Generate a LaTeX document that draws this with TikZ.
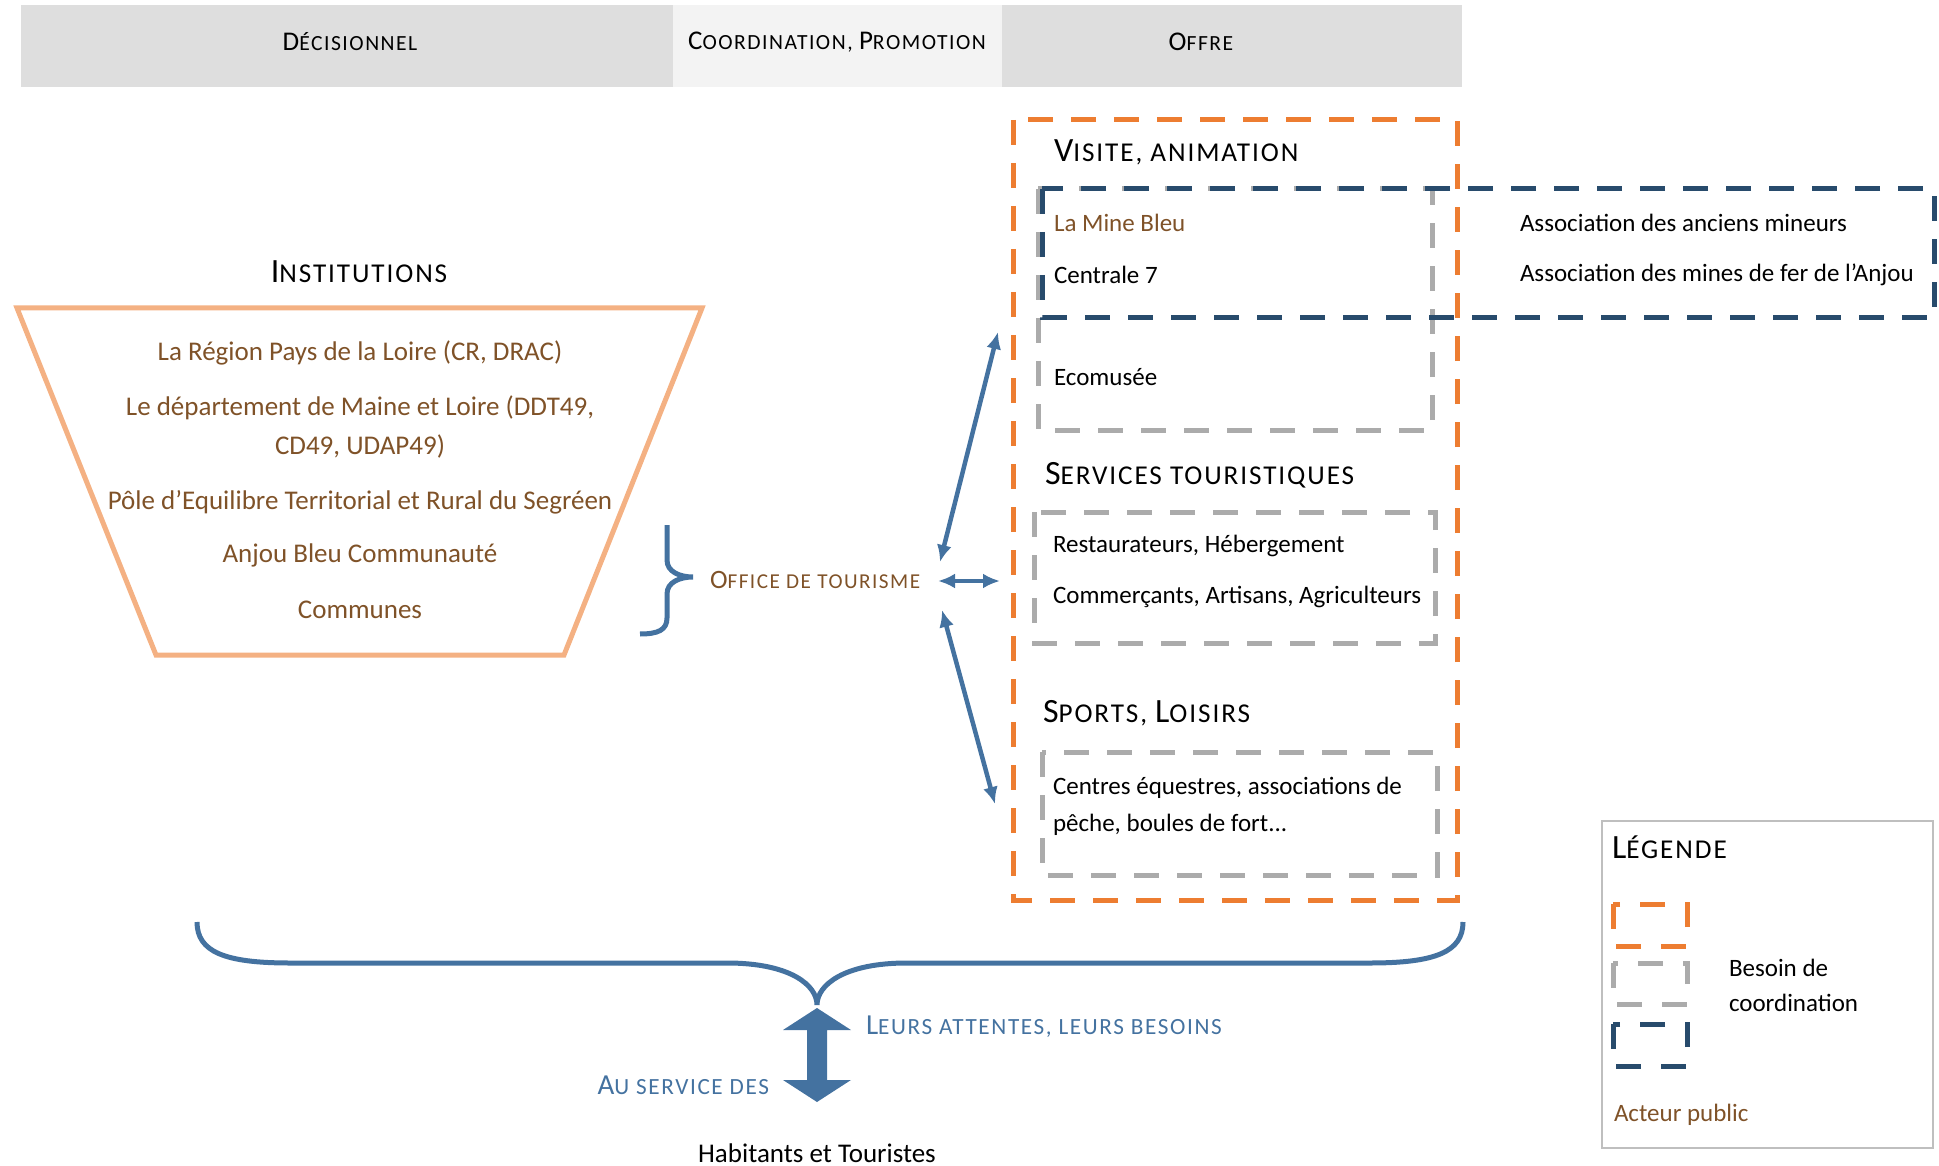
\documentclass[tikz,border=0pt]{standalone}
\usepackage{fontspec}
\setmainfont{Carlito}
\newfontfamily\scf[LetterSpace=7]{Carlito}
\usetikzlibrary{arrows.meta}

\definecolor{brn}{HTML}{7F5228}
\definecolor{blu}{HTML}{4472A0}
\definecolor{org}{HTML}{ED7D31}
\definecolor{trap}{HTML}{F4B183}
\definecolor{gry}{HTML}{ABABAB}
\definecolor{nav}{HTML}{284B6C}
\definecolor{hdr}{HTML}{DEDEDE}
\definecolor{hdrl}{HTML}{F3F3F3}
\definecolor{lgd}{HTML}{BFBFBF}

\newcommand\setfs[2]{\def\fsz{#1}\fontsize{#1}{#2}\selectfont}
\newcommand\sm[1]{{\fontsize{\fpeval{0.8*\fsz}}{\fsz}\scf #1}}

\tikzset{
  txt/.style={inner sep=0pt, outer sep=0pt},
  body/.style={txt, anchor=west, font=\setfs{25}{37}, align=left},
  ttl/.style={txt, font=\setfs{34}{40}},
  hdrtxt/.style={txt, font=\setfs{27}{32}},
  trapt/.style={txt, font=\setfs{27}{39}, align=center, text=brn},
  dsh/.style={line width=5pt, dash pattern=on 25pt off 18pt, line cap=butt},
  lgdbox/.style={line width=5pt, dash pattern=on 25pt off 20pt, line cap=butt},
  arr/.style={blu, line width=4.5pt, {Latex[length=17pt,width=15pt]}-{Latex[length=17pt,width=15pt]}},
}

\begin{document}
\begin{tikzpicture}[x=1pt,y=-1pt]
\useasboundingbox (0,0) rectangle (1939,1166);

% header
\fill[hdr] (21,5) rectangle (673,87);
\fill[hdrl] (673,5) rectangle (1002,87);
\fill[hdr] (1002,5) rectangle (1462,87);
\node[hdrtxt] (hd) at (350,42) {D\sm{ÉCISIONNEL}};
\node[hdrtxt] (hc) at (837,42) {C\sm{OORDINATION, }P\sm{ROMOTION}};
\node[hdrtxt] (ho) at (1201,42) {O\sm{FFRE}};

% institutions
\node[ttl] (inst) at (359,272) {I\sm{NSTITUTIONS}};
\draw[trap, line width=5pt, line join=miter] (17,308) -- (702,308) -- (564,655) -- (156,655) -- cycle;
\node[trapt] (t1) at (360,353) {La Région Pays de la Loire (CR, DRAC)};
\node[trapt] (t2) at (360,427) {Le département de Maine et Loire (DDT49,\\CD49, UDAP49)};
\node[trapt] (t3) at (360,502) {Pôle d’Equilibre Territorial et Rural du Segréen};
\node[trapt] (t4) at (360,555) {Anjou Bleu Communauté};
\node[trapt] (t5) at (360,610) {Communes};

% brace + office
\draw[blu, line width=5pt] (667,525) -- (667,560) .. controls (667,572) and (680,577) .. (693,577)
   .. controls (680,577) and (667,582) .. (667,594) -- (667,618) .. controls (667,630) and (658,634) .. (640,634);
\node[txt, anchor=west, font=\setfs{26.5}{32}, text=brn] (off) at (710,580) {O\sm{FFICE DE TOURISME}};

\coordinate (o1) at (940,562);
\coordinate (v1) at (998,332);
\coordinate (o2) at (938,581);
\coordinate (s2) at (1000,581);
\coordinate (o3) at (942,610);
\coordinate (l3) at (995,804);
\draw[arr] (o1) -- (v1);
\draw[arr] (o2) -- (s2);
\draw[arr] (o3) -- (l3);

% offre boxes
\draw[org, dsh] (1013,120) rectangle (1457,900);
\draw[gry, dsh] (1038,189) rectangle (1432,430);
\draw[gry, dsh] (1034,512) rectangle (1435,643);
\draw[gry, dsh] (1042,752) rectangle (1437,875);
\draw[nav, dsh] (1042,189) rectangle (1934,318);

\node[ttl, anchor=west] (vis) at (1054,152) {V\sm{ISITE, ANIMATION}};
\node[body, text=brn] (mine) at (1054,223) {La Mine Bleu};
\node[body] (c7) at (1054,275) {Centrale 7};
\node[body] (am) at (1520,223) {Association des anciens mineurs};
\node[body] (amf) at (1520,275) {Association des mines de fer de l’Anjou};
\node[body] (eco) at (1054,377) {Ecomusée};

\node[ttl, anchor=west] (serv) at (1045,475) {S\sm{ERVICES TOURISTIQUES}};
\node[body] (rest) at (1053,546) {Restaurateurs, Hébergement};
\node[body] (comm) at (1053,597) {Commerçants, Artisans, Agriculteurs};

\node[ttl, anchor=west] (sport) at (1043,713) {S\sm{PORTS, }L\sm{OISIRS}};
\node[body] (cent) at (1053,806) {Centres équestres, associations de\\pêche, boules de fort...};

% legend
\draw[lgd, line width=2pt] (1602,821) rectangle (1933,1148);
\node[ttl, anchor=west] (leg) at (1612,847) {L\sm{ÉGENDE}};
\draw[org, lgdbox] (1613,904) -- (1613,946) -- (1687,946) -- (1687,904) -- cycle;
\draw[gry, lgdbox] (1613,963) -- (1613,1004) -- (1687,1004) -- (1687,963) -- cycle;
\draw[nav, lgdbox] (1613,1024) -- (1613,1066) -- (1687,1066) -- (1687,1024) -- cycle;
\node[body, font=\setfs{25}{35}] (bes) at (1729,985) {Besoin de\\coordination};
\node[body, text=brn] (act) at (1614,1115) {Acteur public};

% bottom brace
\coordinate (bl) at (197,922);
\coordinate (br) at (1463,922);
\coordinate (tip) at (817,1005);
\draw[blu, line width=5pt] (bl) .. controls (197,952) and (225,963) .. (290,963) -- (727,963)
   .. controls (790,963) and (817,985) .. (tip)
   .. controls (817,985) and (844,963) .. (907,963) -- (1370,963)
   .. controls (1435,963) and (1463,952) .. (br);

% thick double arrow
\fill[blu] (817,1008) -- (851,1030) -- (827,1030) -- (827,1080) -- (851,1080) -- (817,1102)
   -- (783,1080) -- (807,1080) -- (807,1030) -- (783,1030) -- cycle;
\node[txt, anchor=west, font=\setfs{29}{34}, text=blu] (att) at (866,1027) {L\sm{EURS ATTENTES, LEURS BESOINS}};
\node[txt, anchor=east, font=\setfs{29}{34}, text=blu] (aus) at (769,1085) {A\sm{U SERVICE DES}};
\node[txt, font=\setfs{27}{32}] (hab) at (817,1153) {Habitants et Touristes};
\end{tikzpicture}
\end{document}
